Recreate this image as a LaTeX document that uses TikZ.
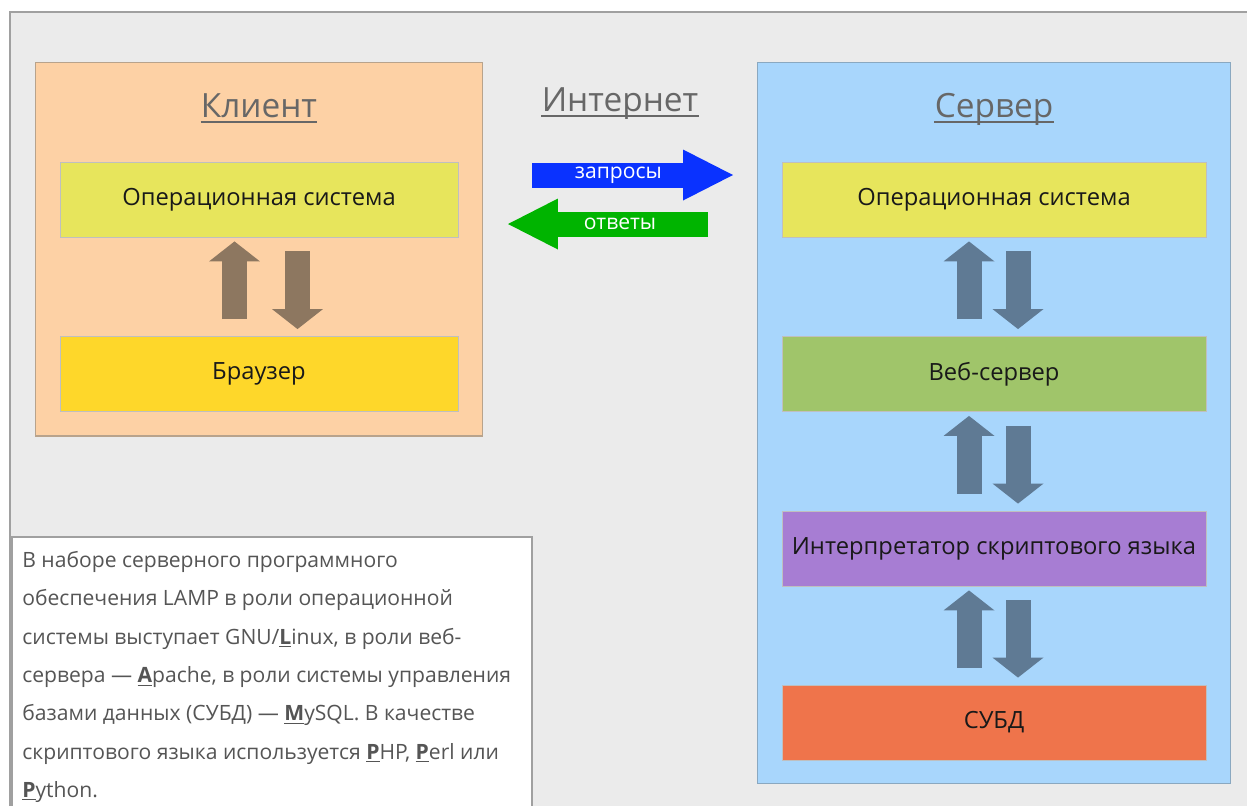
\documentclass[tikz,border=0pt]{standalone}
\usepackage{fontspec}
\setmainfont{Open Sans}
\usetikzlibrary{arrows.meta,calc,positioning}

\definecolor{pagegray}{HTML}{EBEBEB}
\definecolor{framegray}{HTML}{A0A0A0}
\definecolor{clientbg}{HTML}{FDD1A5}
\definecolor{clientline}{HTML}{B8A38C}
\definecolor{serverbg}{HTML}{A8D6FC}
\definecolor{serverline}{HTML}{8AA8C0}
\definecolor{osyellow}{HTML}{E7E55C}
\definecolor{browseryellow}{HTML}{FED72A}
\definecolor{webgreen}{HTML}{A0C56A}
\definecolor{interpviolet}{HTML}{A77DD3}
\definecolor{dborange}{HTML}{EF744B}
\definecolor{clientflow}{HTML}{8D7760}
\definecolor{serverflow}{HTML}{5F7A94}
\definecolor{reqblue}{HTML}{0A32FF}
\definecolor{respgreen}{HTML}{00B400}
\definecolor{titlegray}{HTML}{676767}
\definecolor{notegray}{HTML}{555555}

\newcommand{\lampkey}[1]{\underline{\textbf{#1}}}

\tikzset{
  panel/.style={draw, line width=0.6pt, inner sep=0pt},
  layer/.style={draw=black!25, line width=0.5pt, minimum height=1.5cm,
    inner sep=0pt, font=\fontsize{13.5}{16}\selectfont, text=black!90},
  paneltitle/.style={anchor=base, inner sep=0pt, font=\fontsize{19}{22}\selectfont, text=titlegray},
  titleline/.style={titlegray, line width=1.1pt},
  flow/.style={line width=0.5cm, -{Triangle[width=1.02cm,length=0.4cm,line width=0pt]}},
  netflow/.style={line width=0.5cm, -{Triangle[width=1.02cm,length=1.0cm,line width=0pt]}},
  netlabel/.style={text=white, font=\fontsize{12}{14}\selectfont}
}

\begin{document}
\begin{tikzpicture}[x=0.02cm, y=-0.02cm]
  \useasboundingbox (0,0) rectangle (1247,806);
  \fill[white] (0,0) rectangle (1247,806);
  % page frame
  \fill[pagegray] (10,12) rectangle (1247,806);
  \draw[framegray, line width=0.6pt] (10,806) |- (1247,12);

  % Client side
  \node[panel, draw=clientline, fill=clientbg, minimum width=8.96cm, minimum height=7.48cm]
    (client) at (259,249) {};
  \node[paneltitle] (clienttitle) at (259,117) {Клиент};
  \draw[titleline] ($(clienttitle.base west)+(0,5)$) -- ($(clienttitle.base east)+(0,5)$);
  \node[layer, fill=osyellow, minimum width=7.96cm] (cos) at (259,199.5) {Операционная система};
  \node[layer, fill=browseryellow, minimum width=7.96cm] (cbr) at (259,374) {Браузер};
  \draw[flow, clientflow] ($(cbr.north)+(-24.5,-17)$) -- ($(cos.south)+(-24.5,4)$);
  \draw[flow, clientflow] ($(cos.south)+(38.5,14)$) -- ($(cbr.north)+(38.5,-7)$);

  % Server side
  \node[panel, draw=serverline, fill=serverbg, minimum width=9.48cm, minimum height=14.44cm]
    (server) at (994,423) {};
  \node[paneltitle] (servertitle) at (994,117) {Сервер};
  \draw[titleline] ($(servertitle.base west)+(0,5)$) -- ($(servertitle.base east)+(0,5)$);
  \node[layer, fill=osyellow, minimum width=8.48cm] (sos) at (994,199.5) {Операционная система};
  \node[layer, fill=webgreen, minimum width=8.48cm] (sweb) at (994,374) {Веб-сервер};
  \node[layer, fill=interpviolet, minimum width=8.48cm] (sint) at (994,548.5) {Интерпретатор скриптового языка};
  \node[layer, fill=dborange, minimum width=8.48cm] (sdb) at (994,722.5) {СУБД};
  \foreach \a/\b in {sos/sweb, sweb/sint, sint/sdb} {
    \draw[flow, serverflow] ($(\b.north)+(-25,-17)$) -- ($(\a.south)+(-25,4)$);
    \draw[flow, serverflow] ($(\a.south)+(24,14)$) -- ($(\b.north)+(24,-7)$);
  }

  % Internet
  \node[paneltitle] (nettitle) at (620,111) {Интернет};
  \draw[titleline] ($(nettitle.base west)+(0,5)$) -- ($(nettitle.base east)+(0,5)$);
  \coordinate (reqtail) at (532,175);
  \coordinate (reqhead) at (733,175);
  \coordinate (resptail) at (708,224);
  \coordinate (resphead) at (508,224);
  \draw[netflow, reqblue] (reqtail) -- node[netlabel, pos=0.43] (reqlabel) {запросы} (reqhead);
  \draw[netflow, respgreen] (resptail) -- node[netlabel, pos=0.44] (resplabel) {ответы} (resphead);

  % LAMP note
  \fill[white] (12,537) rectangle (532,806);
  \draw[framegray, line width=0.6pt] (12,806) |- (532,537) -- (532,806);
  \node[anchor=north west, inner sep=0pt, align=left, text=notegray,
    font=\fontsize{12}{21.8}\selectfont] (lampnote) at (22,551) {%
    В наборе серверного программного\\
    обеспечения LAMP в роли операционной\\
    системы выступает GNU/\lampkey{L}inux, в роли веб-\\
    сервера — \lampkey{A}pache, в роли системы управления\\
    базами данных (СУБД) — \lampkey{M}ySQL. В качестве\\
    скриптового языка используется \lampkey{P}HP, \lampkey{P}erl или\\
    \lampkey{P}ython.};
\end{tikzpicture}
\end{document}
